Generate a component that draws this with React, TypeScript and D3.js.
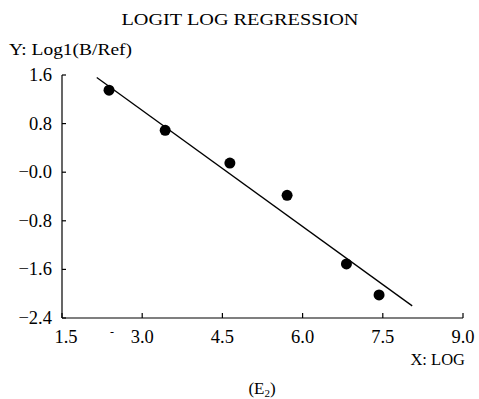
import React from "react";
import * as d3 from "d3";

const xValues = [2.38, 3.43, 4.64, 5.71, 6.82, 7.43];
const yValues = [1.35, 0.69, 0.15, -0.38, -1.51, -2.02];
const fitX = [2.15, 8.05];
const fitY = [1.56, -2.2];
const xTicks = [1.5, 3.0, 4.5, 6.0, 7.5, 9.0];
const yTicks = [1.6, 0.8, 0.0, -0.8, -1.6, -2.4];
const yTickLabels = ["1.6", "0.8", "\u22120.0", "\u22120.8", "\u22121.6", "\u22122.4"];

export default function App() {
  const W = 479, H = 399;
  const left = 62, right = 463, top = 75, bottom = 318;
  const x = d3.scaleLinear().domain([1.5, 9.0]).range([left, right]);
  const y = d3.scaleLinear().domain([-2.4, 1.6]).range([bottom, top]);
  const line = d3.line<number>().x((_, i) => x(fitX[i])).y((d) => y(d));
  const font = "'Liberation Serif', 'Times New Roman', serif";
  return (
    <svg width={W} height={H} style={{ position: "absolute", left: 0, top: 0, background: "#fff" }} fontFamily={font}>
      <rect width={W} height={H} fill="#fff" />
      <text x={240} y={25} textAnchor="middle" fontSize={17} textLength={237} lengthAdjust="spacingAndGlyphs">LOGIT  LOG REGRESSION</text>
      <text x={9} y={55} fontSize={17} textLength={123} lengthAdjust="spacingAndGlyphs">Y: Log1(B/Ref)</text>
      {/* y axis */}
      <line x1={left} y1={top} x2={left} y2={bottom} stroke="#000" strokeWidth={1.2} />
      {yTicks.map((t, i) => (
        <g key={"y" + i}>
          <line x1={left} x2={left + 4} y1={y(t)} y2={y(t)} stroke="#000" strokeWidth={1.2} />
          <text x={52} y={y(t) + 6} textAnchor="end" fontSize={18.5}>{yTickLabels[i]}</text>
        </g>
      ))}
      {/* x axis */}
      <line x1={left} y1={bottom} x2={right} y2={bottom} stroke="#000" strokeWidth={1.2} />
      {xTicks.map((t, i) => (
        <g key={"x" + i}>
          <line x1={x(t)} x2={x(t)} y1={bottom} y2={bottom - 5} stroke="#000" strokeWidth={1.2} />
          <text x={x(t) + (i === 0 ? 4 : 0)} y={343} textAnchor="middle" fontSize={18.5}>{t.toFixed(1)}</text>
        </g>
      ))}
      <text x={112} y={336} textAnchor="middle" fontSize={12}>-</text>
      <text x={465} y={365} textAnchor="end" fontSize={16.5}>X: LOG</text>
      <text x={262} y={394} textAnchor="middle" fontSize={17}>(E<tspan fontSize={11} dy={3}>2</tspan><tspan dy={-3}>)</tspan></text>
      {/* fit line */}
      <path d={line(fitY) || ""} fill="none" stroke="#000" strokeWidth={1.3} />
      {xValues.map((v, i) => (
        <circle key={"p" + i} cx={x(v)} cy={y(yValues[i])} r={5.5} fill="#000" />
      ))}
    </svg>
  );
}
